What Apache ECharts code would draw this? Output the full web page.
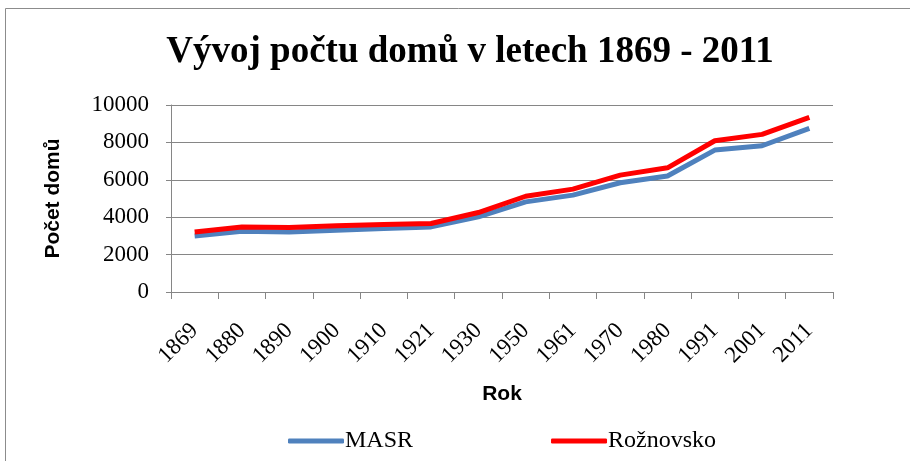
<!DOCTYPE html>
<html lang="cs">
<head>
    <meta charset="UTF-8">
    <title>Vývoj počtu domů</title>
    <script src="https://cdn.jsdelivr.net/npm/echarts@6/dist/echarts.min.js"></script>
    <style>
        html, body { margin: 0; padding: 0; background: #fff; }
        #main { width: 910px; height: 461px; }
    </style>
</head>
<body>
<div id="main"></div>
<script>
    // data
    const years = ['1869', '1880', '1890', '1900', '1910', '1921', '1930', '1950', '1961', '1970', '1980', '1991', '2001', '2011'];
    const masr = [3000, 3250, 3210, 3300, 3390, 3480, 4020, 4820, 5180, 5840, 6200, 7590, 7820, 8750];
    const roznovsko = [3210, 3480, 3450, 3540, 3610, 3660, 4250, 5120, 5500, 6250, 6640, 8090, 8430, 9340];

    const serif = '"Liberation Serif", "Times New Roman", serif';
    const sans = '"Liberation Sans", Arial, sans-serif';

    var myChart = echarts.init(document.getElementById('main'));

    var option = {
        animation: false,
        backgroundColor: '#fff',
        graphic: [{
            type: 'rect',
            shape: { x: 5.5, y: 8.5, width: 920, height: 470 },
            style: { fill: 'none', stroke: '#8c8c8c', lineWidth: 1 },
            silent: true
        }],
        title: {
            text: 'Vývoj počtu domů v letech 1869 - 2011',
            left: 465,
            textAlign: 'center',
            top: 29,
            textStyle: { fontFamily: serif, fontSize: 37, fontWeight: 'bold', color: '#000' }
        },
        legend: {
            bottom: 3,
            left: 283,
            itemGap: 138,
            itemWidth: 56,
            itemHeight: 5,
            icon: 'roundRect',
            textStyle: { fontFamily: serif, fontSize: 24, color: '#000', padding: [0, 0, 0, -4] },
            data: ['MASR', 'Rožnovsko']
        },
        grid: { left: 171, right: 77, top: 105, bottom: 169 },
        xAxis: {
            type: 'category',
            data: years,
            boundaryGap: true,
            name: 'Rok',
            nameLocation: 'middle',
            nameGap: 92,
            nameTextStyle: { fontFamily: sans, fontSize: 21, fontWeight: 'bold', color: '#000' },
            axisLine: { lineStyle: { color: '#868686', width: 1 } },
            axisTick: { show: true, length: 7, alignWithLabel: false, lineStyle: { color: '#868686' } },
            axisLabel: { rotate: 45, margin: 35, interval: 0, fontFamily: serif, fontSize: 23, color: '#000' },
            splitLine: { show: false }
        },
        yAxis: {
            type: 'value',
            min: 0,
            max: 10000,
            interval: 2000,
            name: 'Počet domů',
            nameLocation: 'middle',
            nameGap: 107,
            nameRotate: 90,
            nameTextStyle: { fontFamily: sans, fontSize: 21, fontWeight: 'bold', color: '#000' },
            axisLine: { show: true, lineStyle: { color: '#868686', width: 1 } },
            axisTick: { show: true, length: 5, lineStyle: { color: '#868686' } },
            axisLabel: {
                margin: 22, fontFamily: serif, fontSize: 23, color: '#000',
                formatter: function (v) { return String(v); }
            },
            splitLine: { show: true, lineStyle: { color: '#868686', width: 1 } }
        },
        series: [
            {
                name: 'MASR',
                type: 'line',
                data: masr,
                symbol: 'none',
                color: '#4f81bd',
                lineStyle: { width: 5, color: '#4f81bd' }
            },
            {
                name: 'Rožnovsko',
                type: 'line',
                data: roznovsko,
                symbol: 'none',
                color: '#ff0000',
                lineStyle: { width: 5, color: '#ff0000' }
            }
        ]
    };

    myChart.setOption(option);
</script>
</body>
</html>
